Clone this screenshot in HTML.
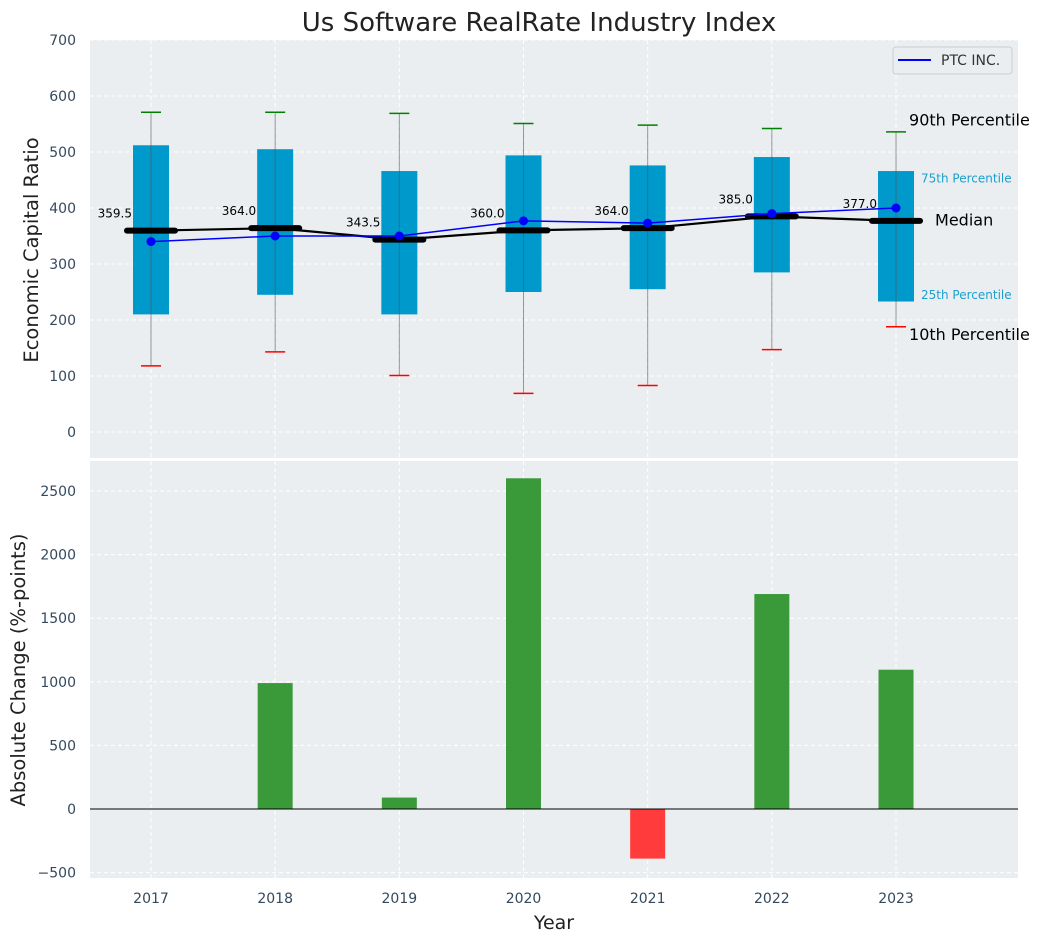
<!DOCTYPE html>
<html><head><meta charset="utf-8"><style>
body{margin:0;background:#fff;font-family:"Liberation Sans","DejaVu Sans",sans-serif}
svg text{font-family:"DejaVu Sans","Liberation Sans",sans-serif}
</style></head><body>
<svg id="chart" width="1044" height="942" xmlns="http://www.w3.org/2000/svg"></svg>
<script>
const years=["2017","2018","2019","2020","2021","2022","2023"];
const p10=[118,143,101,69,83,147,188];
const q1=[210,245,210,250,255,285,233];
const medians=[359.5,364.0,343.5,360.0,364.0,385.0,377.0];
const q3=[512,505,466,494,476,491,466];
const p90=[571,571,569,551,548,542,536];
const ptc=[340,350,350,377,373,390,400];
const changes=[0,990,90,2600,-390,1690,1095];
const topTicks=[0,100,200,300,400,500,600,700];
const botTicks=[-500,0,500,1000,1500,2000,2500];

const svg=document.getElementById('chart');
const NS='http://www.w3.org/2000/svg';
function mk(tag,attrs,parent){const e=document.createElementNS(NS,tag);for(const k in attrs)e.setAttribute(k,attrs[k]);(parent||svg).appendChild(e);return e;}
const X=i=>151+i*124.17;
const YT=v=>432-v*0.56;
const YB=v=>809-v*0.1272;
const L=90,R=1018;

let bg1=mk('rect',{x:L,y:40,width:R-L,height:418,fill:'#ebeef0'});


let bg2=mk('rect',{x:L,y:461,width:R-L,height:417,fill:'#ebeef0'});



topTicks.forEach(t=>{const y=YT(t);
 mk('line',{x1:L,x2:R,y1:y,y2:y,stroke:'#fff','stroke-dasharray':'4,3','stroke-width':1});
 let tx=mk('text',{x:76,y:y+5,'text-anchor':'end','font-size':14,fill:'#34495e'});tx.textContent=t;
 
 });
botTicks.forEach(t=>{const y=YB(t);
 mk('line',{x1:L,x2:R,y1:y,y2:y,stroke:'#fff','stroke-dasharray':'4,3','stroke-width':1});
 let tx=mk('text',{x:76,y:y+5,'text-anchor':'end','font-size':14,fill:'#34495e'});tx.textContent=t<0?'\u2212'+(-t):t;
 
 });
years.forEach((yr,i)=>{const x=X(i);
 mk('line',{x1:x,x2:x,y1:40,y2:458,stroke:'#fff','stroke-dasharray':'4,3'});
 mk('line',{x1:x,x2:x,y1:461,y2:878,stroke:'#fff','stroke-dasharray':'4,3'});
 let tx=mk('text',{x:x,y:903,'text-anchor':'middle','font-size':14,fill:'#34495e'});tx.textContent=yr;
 
 });

years.forEach((yr,i)=>{const x=X(i);
 let b=mk('rect',{x:x-18,y:YT(q3[i]),width:36,height:YT(q1[i])-YT(q3[i]),fill:'#0099cc'});
 
 
 mk('line',{x1:x,x2:x,y1:YT(p90[i]),y2:YT(p10[i]),stroke:'#555','stroke-opacity':0.6,'stroke-width':1});
 let g=mk('line',{x1:x-10,x2:x+10,y1:YT(p90[i]),y2:YT(p90[i]),stroke:'green','stroke-width':1.5});
 
 
 let r=mk('line',{x1:x-10,x2:x+10,y1:YT(p10[i]),y2:YT(p10[i]),stroke:'red','stroke-width':1.5});
 
 
});
let mp=years.map((y,i)=>X(i)+','+YT(medians[i])).join(' ');
let ml=mk('polyline',{points:mp,fill:'none',stroke:'#000','stroke-width':2.2});


years.forEach((yr,i)=>{const x=X(i),y=YT(medians[i]);
 let m=mk('line',{x1:x-24,x2:x+24,y1:y,y2:y,stroke:'#000','stroke-width':6,'stroke-linecap':'round'});
 
 
 let t=mk('text',{x:x-19,y:y-13,'text-anchor':'end','font-size':12,fill:'#000'});t.textContent=medians[i].toFixed(1);
 
 
});
let pp=years.map((y,i)=>X(i)+','+YT(ptc[i])).join(' ');
let pl=mk('polyline',{points:pp,fill:'none',stroke:'blue','stroke-width':1.5});


years.forEach((yr,i)=>{let c=mk('circle',{cx:X(i),cy:YT(ptc[i]),r:4.5,fill:'blue'});
 
 });

const li=6,lx=X(li);
function lab(txt,x,y,size,col,name){let t=mk('text',{x:x,y:y,'font-size':size,fill:col,'dominant-baseline':'middle'});t.textContent=txt;
 
 }
lab('90th Percentile',lx+13,YT(p90[li])-11,16,'#000','p90-label');
lab('75th Percentile',lx+25,YT(q3[li])+8,12,'#1a9fcf','p75-label');
lab('Median',lx+39,YT(medians[li]),16,'#000','median-label');
lab('25th Percentile',lx+25,YT(q1[li])-6,12,'#1a9fcf','p25-label');
lab('10th Percentile',lx+13,YT(p10[li])+9,16,'#000','p10-label');

let lg=mk('rect',{x:893,y:47,width:119,height:27,rx:3,fill:'#ebeef0',stroke:'#ccc'});


mk('line',{x1:898,x2:931,y1:60,y2:60,stroke:'blue','stroke-width':2});
let lt=mk('text',{x:941,y:65,'font-size':14,fill:'#333'});lt.textContent='PTC INC.';



years.forEach((yr,i)=>{const v=changes[i];if(v===0)return;const x=X(i);
 const y0=YB(0),y1=YB(v);
 let b=mk('rect',{x:x-17.5,y:Math.min(y0,y1),width:35,height:Math.abs(y1-y0),fill:v>=0?'#3a9a3a':'#ff3b3b'});
 
 });
mk('line',{x1:L,x2:R,y1:YB(0),y2:YB(0),stroke:'#000','stroke-width':1});

let ti=mk('text',{x:539,y:31,'text-anchor':'middle','font-size':26,fill:'#222'});ti.textContent='Us Software RealRate Industry Index';


let ya=mk('text',{x:0,y:0,'text-anchor':'middle','font-size':19.5,fill:'#222',transform:'translate(38,250) rotate(-90)'});ya.textContent='Economic Capital Ratio';


let yb=mk('text',{x:0,y:0,'text-anchor':'middle','font-size':19.5,fill:'#222',transform:'translate(25,670) rotate(-90)'});yb.textContent='Absolute Change (%-points)';


let xa=mk('text',{x:554,y:929,'text-anchor':'middle','font-size':19,fill:'#222'});xa.textContent='Year';


</script>
</body></html>
